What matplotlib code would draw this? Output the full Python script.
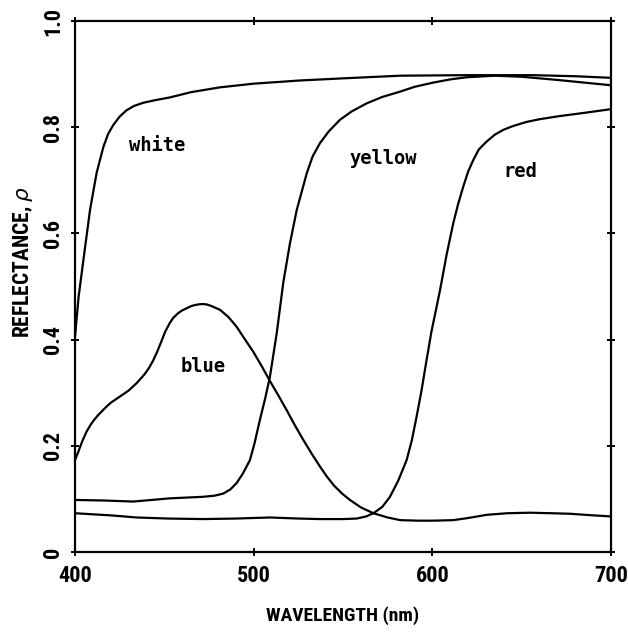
import matplotlib
matplotlib.use("Agg")
import matplotlib.pyplot as plt

# ---- data ----
white_wl = [400, 402, 404.7, 408.4, 412.1, 415.9, 418.5, 421.4, 425, 428.9, 433, 438.2,
            445, 453, 465, 481, 500, 526, 550, 582, 619, 656, 680, 700]
white_r = [0.405, 0.48, 0.55, 0.644, 0.714, 0.763, 0.787, 0.804, 0.82, 0.832, 0.840, 0.846,
           0.851, 0.856, 0.866, 0.875, 0.882, 0.888, 0.892, 0.897, 0.898, 0.898, 0.896, 0.893]

yellow_wl = [400, 416, 432.6, 453, 471.8, 478, 483, 487, 490.5, 494, 497.9, 500.5, 503.5,
             506.5, 509.1, 512.9, 516.6, 520.3, 524.1, 529.7, 533, 537.1, 542, 548.3, 555,
             563.3, 572, 582, 590, 600.5, 610, 619, 635, 650, 670, 700]
yellow_r = [0.098, 0.097, 0.095, 0.101, 0.104, 0.106, 0.110, 0.118, 0.130, 0.148, 0.173,
            0.205, 0.249, 0.29, 0.33, 0.412, 0.508, 0.581, 0.644, 0.713, 0.745, 0.770, 0.792,
            0.814, 0.830, 0.845, 0.857, 0.867, 0.876, 0.884, 0.890, 0.894, 0.897, 0.895,
            0.889, 0.879]

blue_wl = [400, 402, 404, 406.5, 409, 411, 413, 415.9, 418, 420, 425.2, 430, 434.5, 439,
           441.5, 443.8, 446, 448.5, 450.5, 453, 455, 457.8, 460, 462.5, 465, 467, 469.5,
           471.8, 474, 476.5, 481.2, 486, 490.5, 495, 499.8, 504.5, 509.1, 513.8, 518.5, 523,
           527.8, 532.5, 537.1, 541, 545, 549.5, 553.9, 560, 567, 575, 582, 592, 600.5, 611.7,
           620, 630.4, 642, 654.7, 667, 677, 690, 700]
blue_r = [0.173, 0.190, 0.208, 0.227, 0.241, 0.250, 0.258, 0.268, 0.275, 0.281, 0.293, 0.304,
          0.318, 0.335, 0.347, 0.361, 0.377, 0.398, 0.415, 0.431, 0.441, 0.450, 0.455, 0.459,
          0.463, 0.465, 0.4665, 0.467, 0.466, 0.463, 0.456, 0.442, 0.424, 0.401, 0.377, 0.350,
          0.322, 0.295, 0.267, 0.239, 0.211, 0.185, 0.161, 0.142, 0.125, 0.110, 0.098, 0.084,
          0.073, 0.065, 0.060, 0.059, 0.059, 0.060, 0.064, 0.070, 0.073, 0.074, 0.073, 0.072,
          0.069, 0.067]

red_wl = [400, 420, 434.5, 452, 471.8, 490, 509.1, 525, 537, 550, 557.7, 563, 567, 572, 576.3,
          581, 585.6, 588.5, 591.2, 594, 596.8, 599.5, 602.4, 604.3, 608, 611.7, 614.5, 617.3,
          620, 622.9, 626, 630.4, 635, 639.7, 645, 652.8, 660, 671.4, 685, 700]
red_r = [0.073, 0.069, 0.065, 0.063, 0.062, 0.063, 0.065, 0.063, 0.062, 0.062, 0.063, 0.067,
         0.073, 0.085, 0.104, 0.135, 0.173, 0.21, 0.255, 0.305, 0.362, 0.415, 0.462, 0.493,
         0.56, 0.619, 0.656, 0.688, 0.716, 0.738, 0.758, 0.773, 0.786, 0.795, 0.802, 0.810,
         0.815, 0.821, 0.827, 0.834]

curve_names = ["white", "yellow", "blue", "red"]
label_pos = {"white": (445.7, 0.766), "blue": (471.8, 0.350),
             "yellow": (572.5, 0.741), "red": (649, 0.717)}

x_ticks = [400, 500, 600, 700]
x_ticklabels = ["400", "500", "600", "700"]
y_ticks = [0, 0.2, 0.4, 0.6, 0.8, 1.0]
y_ticklabels = ["0", "0.2", "0.4", "0.6", "0.8", "1.0"]

# ---- figure ----
fig = plt.figure(figsize=(6.28, 6.33), dpi=100)
ax = fig.add_axes([75/628, 81/633, 536/628, 531/633])

series = {"white": (white_wl, white_r), "yellow": (yellow_wl, yellow_r),
          "blue": (blue_wl, blue_r), "red": (red_wl, red_r)}
for name in curve_names:
    wl, r = series[name]
    ax.plot(wl, r, color="black", lw=1.6, solid_joinstyle="round", solid_capstyle="round")
    lx, ly = label_pos[name]
    ax.text(lx, ly, name, ha="center", va="center", fontsize=13.5,
            family="DejaVu Sans Mono", fontweight="bold")

ax.set_xlim(400, 700)
ax.set_ylim(0, 1.0)
ax.set_xticks(x_ticks)
ax.set_xticklabels(x_ticklabels)
ax.set_yticks(y_ticks)
ax.set_yticklabels(y_ticklabels, rotation=90, va="center")

for s in ax.spines.values():
    s.set_linewidth(1.6)

ax.tick_params(axis="both", which="major", direction="inout", length=6, width=1.4,
               top=True, right=True, labelsize=16)
ax.tick_params(axis="x", pad=6)
ax.tick_params(axis="y", pad=5)
for lab in ax.get_xticklabels() + ax.get_yticklabels():
    lab.set_fontfamily("Roboto Condensed")
    lab.set_fontweight("bold")

ax.set_xlabel("WAVELENGTH (nm)", fontsize=14, family="Roboto Condensed",
              fontweight="bold", va="center")
ax.xaxis.set_label_coords(0.5, -0.1205)
ax.set_ylabel(r"REFLECTANCE, $\rho$", fontsize=15.5, family="Roboto Condensed",
              fontweight="bold", va="center")
ax.yaxis.set_label_coords(-0.097, 0.546)

fig.savefig("out.png", dpi=100)
